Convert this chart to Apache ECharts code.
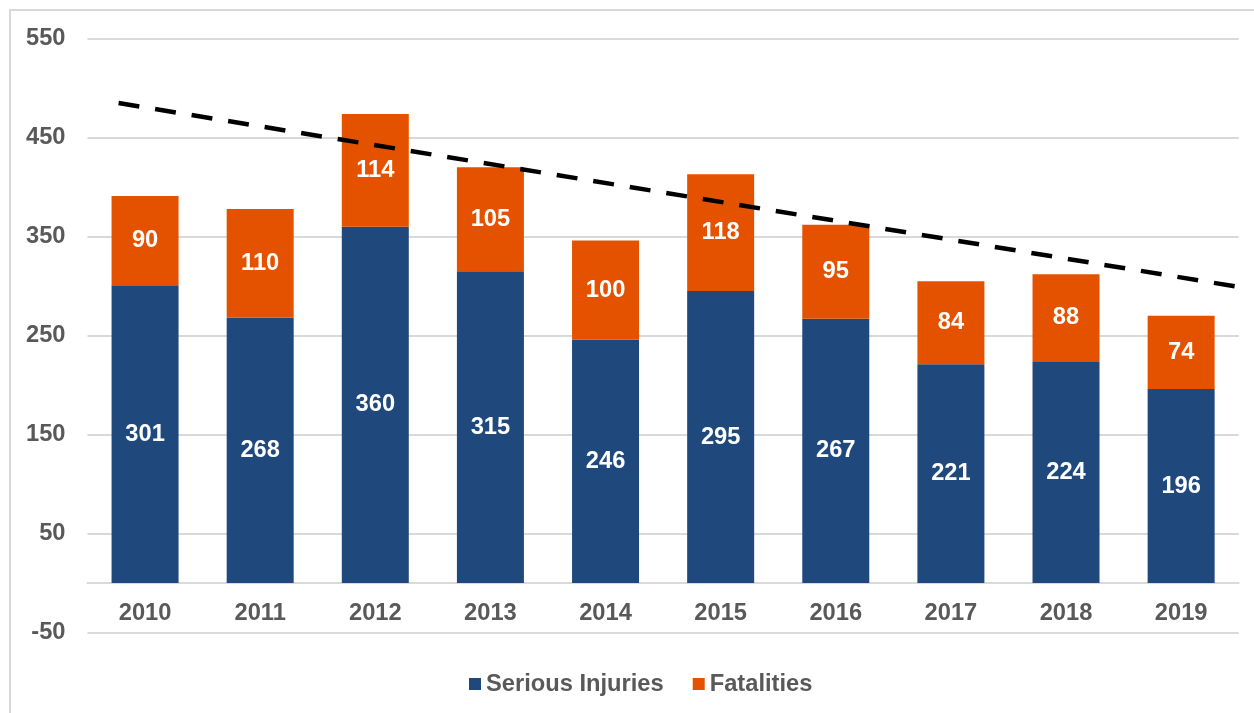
<!DOCTYPE html>
<html>
<head>
<meta charset="utf-8">
<script src="https://cdn.jsdelivr.net/npm/echarts@6/dist/echarts.min.js"></script>
<style>
  html, body { margin: 0; padding: 0; background: #ffffff; }
  #chart { width: 1254px; height: 713px; }
</style>
</head>
<body>
<div id="chart"></div>
<script>
// Yearly counts, stacked per year
const years = ['2010', '2011', '2012', '2013', '2014', '2015', '2016', '2017', '2018', '2019'];
const seriousInjuries = [301, 268, 360, 315, 246, 295, 267, 221, 224, 196];
const fatalities = [90, 110, 114, 105, 100, 118, 95, 84, 88, 74];

// Dashed downward trend line: positions along the year axis (0 = 2010) and values
const trendX = [-0.23, 9.56];
const trendY = [485, 298];

// Value axis range
const yMin = -50;
const yMax = 550;
const yStep = 100;

const FONT = '"Liberation Sans", Arial, sans-serif';
const FONT_SIZE = 23.7;
const GREY = '#595959';
const BLUE = '#1f497d';
const ORANGE = '#e45200';

const GRID = { left: 87.5, right: 15.3, top: 38.7, bottom: 80.5 };
const plotHeight = 713 - GRID.top - GRID.bottom;
// lift the category axis from the bottom edge up to the zero line
const zeroOffset = -plotHeight * (0 - yMin) / (yMax - yMin);

const chart = echarts.init(document.getElementById('chart'));

const barLabel = {
  show: true,
  position: 'inside',
  color: '#ffffff',
  fontFamily: FONT,
  fontWeight: 'bold',
  fontSize: FONT_SIZE
};

chart.setOption({
  animation: false,
  backgroundColor: '#ffffff',
  textStyle: { fontFamily: FONT },
  graphic: [{
    type: 'rect',
    silent: true,
    shape: { x: 10, y: 10, width: 1300, height: 800 },
    style: { fill: 'none', stroke: '#d9d9d9', lineWidth: 2 }
  }],
  grid: Object.assign({ outerBoundsMode: 'none' }, GRID),
  legend: {
    data: ['Serious Injuries', 'Fatalities'],
    left: 469,
    top: 672,
    padding: 0,
    icon: 'rect',
    itemWidth: 12,
    itemHeight: 12,
    itemGap: 29,
    textStyle: { color: GREY, fontFamily: FONT, fontWeight: 'bold', fontSize: FONT_SIZE }
  },
  xAxis: [{
    type: 'category',
    data: years,
    offset: zeroOffset,
    axisTick: { show: false },
    axisLine: { onZero: false, lineStyle: { color: '#d9d9d9', width: 2 } },
    axisLabel: { color: GREY, fontFamily: FONT, fontWeight: 'bold', fontSize: FONT_SIZE, margin: 18 }
  }, {
    type: 'value',
    min: -0.5,
    max: 9.5,
    show: false
  }],
  yAxis: {
    type: 'value',
    min: yMin,
    max: yMax,
    interval: yStep,
    axisLine: { show: false },
    axisTick: { show: false },
    splitLine: { lineStyle: { color: '#d9d9d9', width: 2 } },
    axisLabel: { color: GREY, fontFamily: FONT, fontWeight: 'bold', fontSize: FONT_SIZE, margin: 22 }
  },
  series: [{
    name: 'Serious Injuries',
    type: 'bar',
    stack: 'total',
    barWidth: 67,
    itemStyle: { color: BLUE },
    label: barLabel,
    data: seriousInjuries
  }, {
    name: 'Fatalities',
    type: 'bar',
    stack: 'total',
    barWidth: 67,
    itemStyle: { color: ORANGE },
    label: barLabel,
    data: fatalities
  }, {
    name: 'Trend',
    type: 'line',
    xAxisIndex: 1,
    yAxisIndex: 0,
    clip: false,
    silent: true,
    symbol: 'none',
    z: 10,
    lineStyle: { color: '#000000', width: 4.5, type: [21, 16] },
    data: trendX.map((x, i) => [x, trendY[i]])
  }]
});
</script>
</body>
</html>
